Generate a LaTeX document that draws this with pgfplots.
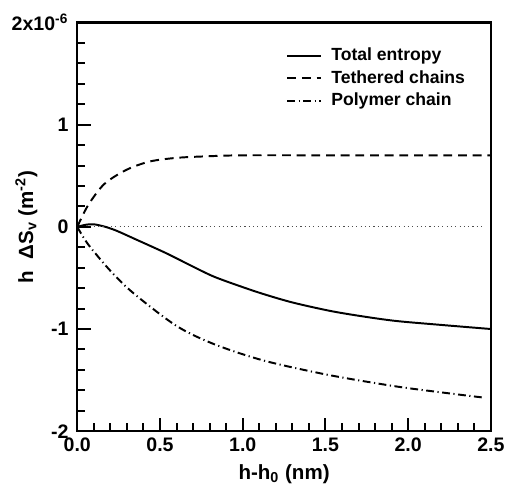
\documentclass[border=0pt]{standalone}
\usepackage{fontspec}
\setmainfont{Liberation Sans}
\usepackage{pgfplots}
\pgfplotsset{compat=1.18}

\begin{document}
\begin{tikzpicture}
\begin{axis}[
    scale only axis,
    width=211.5pt, height=209pt,
    xmin=0, xmax=2.5, ymin=-2, ymax=2,
    clip=false,
    axis line style={line width=1.1pt},
    xtick={0,0.5,1,1.5,2,2.5},
    xticklabels={0.0,0.5,1.0,1.5,2.0,2.5},
    ytick={-2,-1,0,1,2},
    yticklabels={-2,-1,0,1,{2x10\textsuperscript{-6}}},
    minor x tick num=4, minor y tick num=4,
    tick align=inside,
    xtick pos=bottom, ytick pos=left,
    major tick length=7pt, minor tick length=4pt,
    every tick/.style={line width=1pt, black},
    ticklabel style={font=\fontsize{10}{11}\selectfont\bfseries},
    xticklabel style={yshift=0pt},
    yticklabel style={xshift=-1pt},
    xlabel={h-h\textsubscript{0} (nm)},
    ylabel={h\; ΔS\textsubscript{v} (m\textsuperscript{-2})},
    every axis x label/.style={at={(axis description cs:0.5,-0.105)}, anchor=center},
    every axis y label/.style={at={(axis description cs:-0.123,0.5)}, rotate=90, anchor=center},
    label style={font=\fontsize{10.5}{12}\selectfont\bfseries},
    legend style={at={(0.49,0.958)}, anchor=north west, draw=none, fill=none,
        font=\fontsize{9}{10.8}\selectfont\bfseries, row sep=-0.5pt, column sep=3pt},
    legend cell align=left,
    legend image post style={line width=1pt},
]
% Total entropy
\addplot[black, line width=1pt, smooth] coordinates {
    (0,0) (0.05,0.02) (0.1,0.025) (0.17,0.0) (0.24,-0.04) (0.35,-0.12)
    (0.54,-0.26) (0.7,-0.39) (0.83,-0.49) (1.0,-0.59) (1.13,-0.66)
    (1.3,-0.74) (1.52,-0.82) (1.7,-0.87) (1.92,-0.92) (2.2,-0.96) (2.5,-1.0)
};
\addlegendentry{Total entropy}
% Tethered chains
\addplot[black, line width=1pt, smooth, dash pattern=on 4.5pt off 3pt] coordinates {
    (0,0) (0.065,0.21) (0.164,0.42) (0.30,0.56) (0.44,0.64) (0.6,0.675)
    (0.78,0.69) (1.0,0.70) (1.5,0.70) (2.0,0.70) (2.5,0.70)
};
\addlegendentry{Tethered chains}
% Polymer chain
\addplot[black, line width=1pt, smooth, dash pattern=on 4pt off 1.8pt on 0.6pt off 1.8pt] coordinates {
    (0,0) (0.065,-0.17) (0.2,-0.43) (0.34,-0.65) (0.6,-0.97) (0.83,-1.15)
    (1.13,-1.31) (1.52,-1.45) (1.92,-1.56) (2.2,-1.62) (2.45,-1.67)
};
\addlegendentry{Polymer chain}
% zero line
\addplot[black!70, line width=0.6pt, dash pattern=on 0.6pt off 1.6pt, forget plot] coordinates {
    (0.1,0) (2.45,0)
};
% page frame with the reference's proportions
\path (rel axis cs:-0.1868,-0.1435) rectangle (rel axis cs:1.0213,1.055);
\end{axis}
\end{tikzpicture}
\end{document}
